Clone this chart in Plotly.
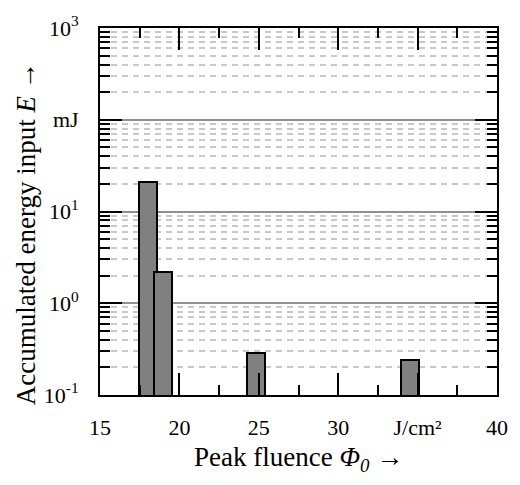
import plotly.graph_objects as go

# Data
fluence = [18.05, 18.95, 24.85, 34.5]
energy = [21.0, 2.2, 0.29, 0.238]
bar_width = [1.14, 1.14, 1.14, 1.14]

x_tickvals = [15, 20, 25, 30, 35, 40]
x_ticktext = ["15", "20", "25", "30", "J/cm²", "40"]
x_minorvals = [17.5, 22.5, 27.5, 32.5, 37.5]
y_tickvals = [0.1, 1, 10, 100, 1000]
y_ticktext = ["10<sup>-1</sup>", "10<sup>0</sup>", "10<sup>1</sup>", "mJ", "10<sup>3</sup>"]
y_minorvals = [m * d for d in [0.1, 1, 10, 100] for m in range(2, 10)]

FONT = "Liberation Serif"

fig = go.Figure()
fig.add_trace(go.Bar(
    x=fluence, y=energy, width=bar_width,
    marker=dict(color="#808080", line=dict(color="black", width=2)),
))
# invisible trace to anchor the minor-tick overlay axis
fig.add_trace(go.Scatter(x=[fluence[0]], y=[energy[0]], yaxis="y2", mode="markers",
                         marker=dict(opacity=0), hoverinfo="skip", showlegend=False))

fig.update_layout(
    width=520, height=485,
    margin=dict(l=100, r=18, t=16, b=90),
    plot_bgcolor="white", paper_bgcolor="white",
    showlegend=False,
    font=dict(family=FONT, size=22, color="black"),
    bargap=0,
)

fig.update_xaxes(
    range=[15, 40], tickmode="array", tickvals=x_tickvals, ticktext=x_ticktext,
    ticks="inside", ticklen=22, tickwidth=2, tickcolor="black",
    showline=True, linecolor="black", linewidth=2, mirror="ticks",
    showgrid=False, zeroline=False,
    ticklabelstandoff=12,
    tickfont=dict(family=FONT, size=22),
    minor=dict(tickmode="array", tickvals=x_minorvals,
               ticks="inside", ticklen=10, tickwidth=2, tickcolor="black", showgrid=False),
)

fig.update_layout(yaxis=dict(
    type="log", range=[-1, 3], tickmode="array", tickvals=y_tickvals, ticktext=y_ticktext,
    ticks="inside", ticklen=22, tickwidth=2, tickcolor="black",
    showline=True, linecolor="black", linewidth=2, mirror="ticks",
    showgrid=True, gridcolor="#909090", gridwidth=1.5,
    zeroline=False,
    ticklabelstandoff=15,
    tickfont=dict(family=FONT, size=22),
    minor=dict(tickmode="array", tickvals=y_minorvals, ticks="",
               showgrid=True, gridcolor="#c8c8c8", gridwidth=1.5, griddash="6px,5px"),
), yaxis2=dict(
    type="log", range=[-1, 3], overlaying="y", side="left", anchor="x",
    tickmode="array", tickvals=y_minorvals, showticklabels=False,
    ticks="inside", ticklen=10, tickwidth=2, tickcolor="black",
    showline=True, linecolor="black", linewidth=2, mirror="ticks",
    showgrid=False, zeroline=False,
))

fig.add_annotation(
    text="Accumulated energy input <i>E</i> →", xref="paper", yref="paper",
    x=-0.187, y=0.44, xanchor="center", yanchor="middle", textangle=-90,
    showarrow=False, font=dict(family=FONT, size=27),
)
fig.add_annotation(
    text="Peak fluence <i>Φ<sub>0</sub></i> →", xref="paper", yref="paper",
    x=0.5, y=-0.174, xanchor="center", yanchor="middle",
    showarrow=False, font=dict(family=FONT, size=27),
)

fig.write_html("out.html")
